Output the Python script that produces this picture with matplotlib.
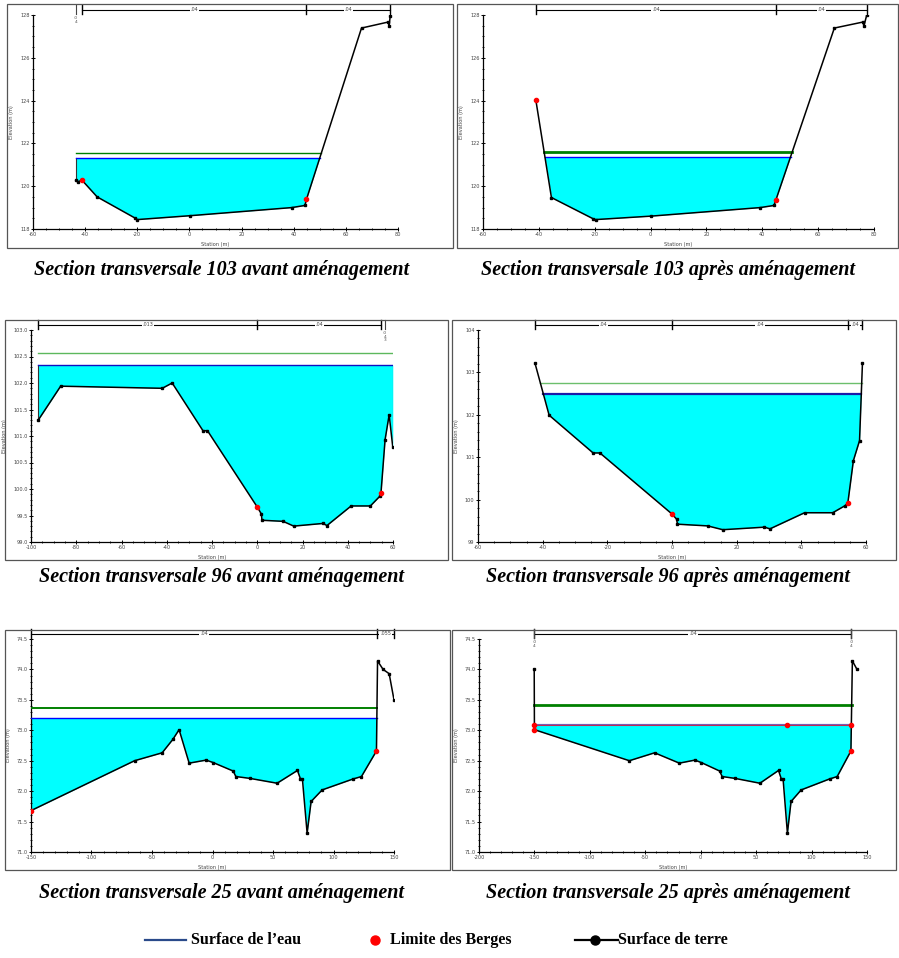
import numpy as np
import matplotlib.pyplot as plt
from matplotlib.lines import Line2D
from matplotlib.patches import Rectangle
from matplotlib.ticker import MultipleLocator, FormatStrFormatter

plt.rcParams['axes.unicode_minus'] = False

W, H = 899, 958

# ---- Section 103 avant amenagement ----
sta_103a = [-43.6, -42.9, -41.2, -35.4, -20.7, -20.0, 0.1, 39.2, 44.3, 44.9, 66.0, 76.2, 76.6, 77.0]
z_103a = [120.28, 120.2, 120.28, 119.5, 118.5, 118.44, 118.62, 119.0, 119.1, 119.39, 127.39, 127.67, 127.49, 127.95]
bank_sta_103a = [-41.2, 44.9]
bank_z_103a = [120.28, 119.39]
ws_103a = 121.3
eg_103a = 121.57
n_sta_103a = [-41.2, 44.9, 77.0]
n_val_103a = ['.04', '.04']

# ---- Section 103 apres amenagement ----
sta_103p = [-41.1, -35.5, -20.6, -19.7, 0.0, 39.2, 44.2, 44.9, 65.8, 76.0, 76.4, 77.4]
z_103p = [124.04, 119.47, 118.48, 118.44, 118.6, 119.0, 119.1, 119.37, 127.39, 127.67, 127.49, 128.0]
bank_sta_103p = [-41.1, 44.9]
bank_z_103p = [124.04, 119.37]
ws_103p = 121.37
eg_103p = 121.6
n_sta_103p = [-41.1, 44.9, 77.4]
n_val_103p = ['.04', '.04']

# ---- Section 96 avant amenagement ----
sta_96a = [-96.8, -86.9, -42.0, -37.6, -24.0, -22.0, 0.0, 1.8, 2.1, 11.4, 16.1, 29.1, 30.8,
           41.5, 50.0, 54.1, 54.7, 56.5, 58.3, 59.9]
z_96a = [101.30, 101.94, 101.90, 102.0, 101.10, 101.10, 99.66, 99.53, 99.41, 99.39, 99.30, 99.35, 99.31,
         99.68, 99.68, 99.86, 99.93, 100.93, 101.40, 100.79]
bank_sta_96a = [0.0, 54.7]
bank_z_96a = [99.66, 99.93]
ws_96a = 102.34
eg_96a = 102.56
n_sta_96a = [-96.8, 0.0, 54.7]
n_val_96a = ['.013', '.04']

# ---- Section 96 apres amenagement ----
sta_96p = [-42.35, -38.0, -24.4, -22.3, 0.0, 1.4, 1.7, 11.0, 15.7, 28.6, 30.3, 41.0, 49.7,
           53.6, 54.4, 56.1, 58.0, 58.9]
z_96p = [103.21, 101.99, 101.10, 101.10, 99.66, 99.54, 99.42, 99.38, 99.29, 99.35, 99.31, 99.69, 99.69,
         99.86, 99.93, 100.92, 101.39, 103.21]
bank_sta_96p = [0.0, 54.4]
bank_z_96p = [99.66, 99.93]
ws_96p = 102.5
eg_96p = 102.74
n_sta_96p = [-42.35, 0.0, 54.4, 58.9]
n_val_96p = ['.04', '.04', '.04']

# ---- Section 25 avant amenagement ----
sta_25a = [-150.0, -64.4, -41.6, -32.8, -27.6, -19.3, -5.3, 0.5, 17.1, 19.3, 30.8, 53.4, 70.2, 72.7,
           74.3, 78.2, 81.5, 90.6, 116.2, 123.1, 135.5, 136.4, 141.0, 146.0, 150.0]
z_25a = [71.68, 72.50, 72.63, 72.85, 73.01, 72.46, 72.51, 72.47, 72.33, 72.24, 72.21, 72.13, 72.34, 72.20,
         72.20, 71.31, 71.83, 72.02, 72.20, 72.24, 72.66, 74.14, 74.00, 73.93, 73.50]
bank_sta_25a = [-150.0, 135.5]
bank_z_25a = [71.68, 72.66]
ws_25a = 73.2
eg_25a = 73.36
n_sta_25a = [-150.0, 136.0, 150.0]
n_val_25a = ['.04', '.055']

# ---- Section 25 apres amenagement ----
sta_25p = [-150.2, -150.0, -64.4, -41.6, -19.3, -5.3, 0.5, 17.1, 19.3, 30.8, 53.4, 70.2, 72.7,
           74.3, 78.2, 81.5, 90.6, 116.2, 123.1, 135.5, 136.8, 141.0]
z_25p = [74.0, 73.01, 72.50, 72.63, 72.46, 72.51, 72.47, 72.33, 72.24, 72.21, 72.13, 72.34, 72.20,
         72.20, 71.31, 71.83, 72.02, 72.20, 72.24, 72.66, 74.14, 74.00]
bank_sta_25p = [-150.0, 135.5, -150.0, 78.0, 136.0]
bank_z_25p = [73.01, 72.66, 73.09, 73.09, 73.09]
ws_25p = 73.09
eg_25p = 73.42
n_sta_25p = [-150.0, 136.0]
n_val_25p = ['.04']

captions = ['Section transversale 103 avant aménagement', 'Section transversale 103 après aménagement',
            'Section transversale 96 avant aménagement', 'Section transversale 96 après aménagement',
            'Section transversale 25 avant aménagement', 'Section transversale 25 après aménagement']

fig = plt.figure(figsize=(W / 100, H / 100), dpi=100)


def wet_limits(x, z, level):
    x = np.asarray(x, float)
    z = np.asarray(z, float)
    wet = z < level
    i0 = int(np.argmax(wet))
    if i0 == 0:
        left = x[0]
    else:
        left = x[i0 - 1] + (level - z[i0 - 1]) * (x[i0] - x[i0 - 1]) / (z[i0] - z[i0 - 1])
    i1 = len(z) - 1 - int(np.argmax(wet[::-1]))
    if i1 == len(z) - 1:
        right = x[-1]
    else:
        right = x[i1] + (level - z[i1]) * (x[i1 + 1] - x[i1]) / (z[i1 + 1] - z[i1])
    return left, right


def panel(box, frame, sta, z, bsta, bz, ws, eg, nsta, nval, xlim, ylim, xt, yt, yfmt,
          ws_c='#0000ff', eg_c='#008000', ws_lw=1.0, eg_lw=1.0, notes=()):
    l, r, t, b = box
    fl, ft, fr, fb = frame
    fig.add_artist(Rectangle((fl / W, 1 - fb / H), (fr - fl) / W, (fb - ft) / H,
                             transform=fig.transFigure, fill=False, ec='#555555', lw=0.9))
    ax = fig.add_axes([l / W, 1 - b / H, (r - l) / W, (b - t) / H])
    sta = np.asarray(sta)
    z = np.asarray(z)

    ax.fill_between(sta, z, ws, where=z < ws, interpolate=True, color='#00ffff', lw=0, zorder=1)
    wl, wr = wet_limits(sta, z, ws)
    if wl == sta[0]:
        ax.plot([sta[0], sta[0]], [z[0], ws], color='#333333', lw=0.8, zorder=2)
    if wr == sta[-1]:
        ax.plot([sta[-1], sta[-1]], [z[-1], ws], color='#777777', lw=0.8, zorder=2)
    el, er = wet_limits(sta, z, eg)
    ax.plot([el, er], [eg, eg], color=eg_c, lw=eg_lw, zorder=3)
    ax.plot([wl, wr], [ws, ws], color=ws_c, lw=ws_lw, zorder=3)

    ax.plot(sta, z, color='black', lw=1.1, marker='s', ms=2.0, zorder=4)
    ax.plot(bsta, bz, ls='none', marker='o', ms=3.0, color='red', zorder=5)

    # Manning's n bar
    tr = ax.get_xaxis_transform()
    ax.plot([nsta[0], nsta[-1]], [1.024, 1.024], transform=tr, color='black', lw=0.8, clip_on=False)
    for s in nsta:
        ax.plot([s, s], [1.005, 1.045], transform=tr, color='black', lw=1.0, clip_on=False)
    for i, v in enumerate(nval):
        ax.text((nsta[i] + nsta[i + 1]) / 2, 1.024, v, transform=tr, fontsize=3.5, color='#444444',
                ha='center', va='center', bbox=dict(fc='white', ec='none', pad=0.5))
    for s, txt in notes:
        ax.plot([s, s], [1.005, 1.045], transform=tr, color='#444444', lw=0.8, clip_on=False)
        ax.text(s, 0.995, txt, transform=tr, fontsize=3.2, color='#555555',
                ha='center', va='top', linespacing=0.9)

    ax.set_xlim(*xlim)
    ax.set_ylim(*ylim)
    ax.xaxis.set_major_locator(MultipleLocator(xt[0]))
    ax.xaxis.set_minor_locator(MultipleLocator(xt[1]))
    ax.yaxis.set_major_locator(MultipleLocator(yt[0]))
    ax.yaxis.set_minor_locator(MultipleLocator(yt[1]))
    ax.yaxis.set_major_formatter(FormatStrFormatter(yfmt))
    for sp in ['top', 'right']:
        ax.spines[sp].set_visible(False)
    for sp in ['left', 'bottom']:
        ax.spines[sp].set_linewidth(0.9)
    ax.tick_params(which='major', direction='inout', length=3, width=0.7, labelsize=3.6,
                   labelcolor='#444444', pad=1)
    ax.tick_params(which='minor', direction='inout', length=2, width=0.6)
    ax.set_xlabel('Station (m)', fontsize=3.6, color='#444444', labelpad=3)
    ax.set_ylabel('Elevation (m)', fontsize=3.6, color='#444444', labelpad=4)
    return ax


panel((33, 398, 15, 229), (7, 4, 453, 248), sta_103a, z_103a, bank_sta_103a, bank_z_103a,
      ws_103a, eg_103a, n_sta_103a, n_val_103a, (-60, 80), (118, 128), (20, 5), (2, 0.5), '%d',
      notes=[(-43.6, '.0\n4')])
panel((483, 874, 15, 229), (457, 4, 898, 248), sta_103p, z_103p, bank_sta_103p, bank_z_103p,
      ws_103p, eg_103p, n_sta_103p, n_val_103p, (-60, 80), (118, 128), (20, 5), (2, 0.5), '%d',
      eg_lw=2.0)
panel((31, 393, 330, 542), (5, 320, 448, 560), sta_96a, z_96a, bank_sta_96a, bank_z_96a,
      ws_96a, eg_96a, n_sta_96a, n_val_96a, (-100, 60), (99, 103), (20, 5), (0.5, 0.1), '%.1f',
      ws_c='#1010c0', eg_c='#5cb85c', notes=[(56.5, '.0\n4\n3')])
panel((478, 866, 330, 542), (452, 320, 896, 560), sta_96p, z_96p, bank_sta_96p, bank_z_96p,
      ws_96p, eg_96p, n_sta_96p, n_val_96p, (-60, 60), (99, 104), (20, 5), (1, 0.2), '%d',
      ws_c='#1a1aa8', eg_c='#6cbf6c', ws_lw=1.6)
panel((31, 394, 639, 852), (5, 630, 450, 870), sta_25a, z_25a, bank_sta_25a, bank_z_25a,
      ws_25a, eg_25a, n_sta_25a, n_val_25a, (-150, 150), (71, 74.5), (50, 10), (0.5, 0.1), '%.1f',
      eg_lw=1.4)
ax6 = panel((479, 867, 639, 852), (452, 630, 896, 870), sta_25p, z_25p, bank_sta_25p, bank_z_25p,
            ws_25p, eg_25p, n_sta_25p, n_val_25p, (-200, 150), (71, 74.5), (50, 10), (0.5, 0.1), '%.1f',
            ws_c='#7a5ab0', eg_lw=2.0, ws_lw=1.5, notes=[(-150.0, '.0\n4'), (136.0, '.0\n4')])
ax6.plot([-150.0, 136.0], [ws_25p + 0.02, ws_25p + 0.02], color='#a0a0d0', lw=0.8, zorder=2)
ax6.plot([-150.0, 136.0], [ws_25p, ws_25p], color='#cc2244', lw=0.6, zorder=3)

# captions
cap_pos = [(222, 270), (668, 270), (222, 577), (668, 577), (222, 893), (668, 893)]
for (cx, cy), txt in zip(cap_pos, captions):
    fig.text(cx / W, 1 - cy / H, txt, ha='center', va='center', fontsize=14.5,
             family='Liberation Serif', fontweight='bold', style='italic')

# legend
ly = 1 - 940 / H
leg_font = dict(fontsize=11.5, family='Liberation Serif', fontweight='bold', va='center')
fig.add_artist(Line2D([145 / W, 186 / W], [ly, ly], color='#2a4a8a', lw=1.6, transform=fig.transFigure))
fig.text(191 / W, ly, 'Surface de l\u2019eau', **leg_font)
fig.add_artist(Line2D([375 / W], [ly], marker='o', ms=6.5, color='red', ls='none', transform=fig.transFigure))
fig.text(390 / W, ly, 'Limite des Berges', **leg_font)
fig.add_artist(Line2D([575 / W, 618 / W], [ly, ly], color='black', lw=1.6, transform=fig.transFigure))
fig.add_artist(Line2D([595 / W], [ly], marker='o', ms=6.5, color='black', ls='none', transform=fig.transFigure))
fig.text(618 / W, ly, 'Surface de terre', **leg_font)

fig.savefig('out.png', dpi=100)
